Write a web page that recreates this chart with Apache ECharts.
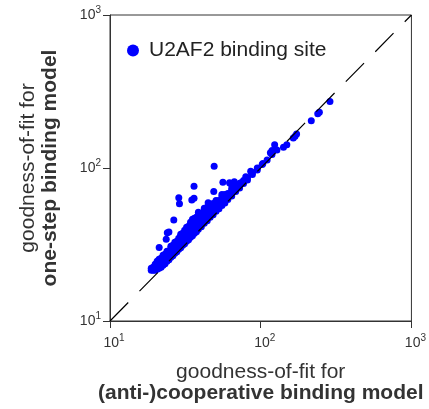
<!DOCTYPE html>
<html>
<head>
<meta charset="utf-8">
<script src="https://cdn.jsdelivr.net/npm/echarts@6/dist/echarts.min.js"></script>
<style>
html, body { margin: 0; padding: 0; background: #fff; }
#chart { width: 429px; height: 409px; }
</style>
</head>
<body>
<div id="chart"></div>
<script>
// goodness-of-fit: [(anti-)cooperative model, one-step model]
var bandSites = [
    [18.78, 21.49], [18.78, 22.15],
    [19.35, 21.49], [19.35, 22.48],
    [19.94, 21.50], [19.94, 22.48], [19.94, 23.52],
    [20.55, 21.82], [20.55, 22.83], [20.55, 23.87], [20.55, 24.60],
    [21.17, 22.14], [21.17, 23.16], [21.17, 24.23], [21.17, 25.34],
    [21.82, 22.48], [21.82, 23.52], [21.82, 24.60], [21.82, 25.73],
    [22.48, 23.16], [22.48, 23.87], [22.48, 24.97], [22.48, 26.12], [22.48, 26.91],
    [23.17, 23.70], [23.17, 24.97], [23.17, 26.12], [23.17, 27.33],
    [23.88, 24.61], [23.88, 26.13], [23.88, 27.33], [23.88, 28.59],
    [24.60, 25.16], [24.60, 26.12], [24.60, 27.32], [24.60, 28.58],
    [25.35, 26.12], [25.35, 27.32], [25.35, 28.58], [25.35, 29.90], [25.35, 30.81],
    [26.12, 26.72], [26.12, 27.73], [26.12, 29.01], [26.12, 30.35], [26.12, 31.27],
    [26.92, 27.74], [26.92, 29.01], [26.92, 30.35], [26.92, 31.75], [26.92, 32.72],
    [27.74, 28.37], [27.74, 29.45], [27.74, 30.81], [27.74, 32.23], [27.74, 33.21],
    [28.58, 29.45], [28.58, 30.80], [28.58, 32.22], [28.58, 33.71], [28.58, 34.73],
    [29.45, 30.12], [29.45, 31.27], [29.45, 32.71], [29.45, 34.22], [29.45, 35.79], [29.45, 36.88],
    [30.35, 31.27], [30.35, 32.71], [30.35, 34.22], [30.35, 35.79], [30.35, 37.44],
    [31.27, 31.98], [31.27, 33.20], [31.27, 34.73], [31.27, 36.33], [31.27, 38.00], [31.27, 39.16],
    [32.22, 33.20], [32.22, 34.73], [32.22, 36.33], [32.22, 38.00], [32.22, 39.75], [32.22, 40.96],
    [33.21, 33.97], [33.21, 35.26], [33.21, 36.89], [33.21, 38.58], [33.21, 40.36], [33.21, 41.59],
    [34.22, 35.26], [34.22, 36.88], [34.22, 38.58], [34.22, 40.36], [34.22, 42.21], [34.22, 44.16],
    [35.26, 36.06], [35.26, 37.44], [35.26, 39.16], [35.26, 40.96], [35.26, 42.85], [35.26, 44.82], [35.26, 46.19],
    [36.33, 37.43], [36.33, 39.16], [36.33, 40.96], [36.33, 42.85], [36.33, 44.82], [36.33, 46.88],
    [37.44, 38.29], [37.44, 39.75], [37.44, 41.59], [37.44, 43.50], [37.44, 45.50], [37.44, 47.59],
    [38.58, 39.75], [38.58, 41.58], [38.58, 43.50], [38.58, 45.50], [38.58, 47.59], [38.58, 49.78], [38.58, 51.30],
    [40.36, 41.28], [40.36, 42.85], [40.36, 44.83], [40.36, 46.89], [40.36, 49.05], [40.36, 50.54],
    [42.22, 43.50], [42.22, 45.50], [42.22, 47.60], [42.22, 49.79], [42.22, 52.08], [42.22, 54.48],
    [44.16, 45.17], [44.16, 46.89], [44.16, 49.05], [44.16, 51.30], [44.16, 53.67], [44.16, 55.30],
    [46.19, 47.59], [46.19, 49.78], [46.19, 52.08], [46.19, 54.48], [46.19, 56.13], [46.19, 57.84],
    [48.31, 49.41], [48.31, 51.30], [48.31, 53.66], [48.31, 56.13], [48.31, 58.71],
    [50.53, 52.07], [50.53, 54.46], [50.53, 56.97], [50.53, 59.60], [50.53, 61.41],
    [52.86, 54.07], [52.86, 56.13], [52.86, 58.71], [52.86, 61.41],
    [55.29, 56.97], [55.29, 59.59], [55.29, 62.34], [55.29, 65.21], [55.29, 67.19],
    [57.83, 59.15], [57.83, 61.40], [57.83, 64.23], [57.83, 67.19],
    [60.50, 62.34], [60.50, 65.21], [60.50, 68.21],
    [64.23, 65.69], [64.23, 68.20], [64.23, 71.34], [64.23, 73.51],
    [68.23, 70.30], [68.23, 73.54], [68.23, 76.93],
    [72.44, 74.09], [72.44, 76.92], [72.44, 79.26],
    [76.91, 79.25], [76.91, 82.89],
    [81.68, 83.54], [81.68, 86.73],
    [88.05, 90.73], [88.05, 93.49],
    [94.89, 97.05], [94.89, 100.0],
    [102.3, 105.4], [110.3, 112.8], [118.8, 122.4], [128.1, 131.0]
];

var scatteredSites = [
    [49.1, 102.7], [36.1, 76.0], [56.1, 80.8], [48.8, 70.3], [28.6, 64.0],
    [28.9, 58.5], [34.9, 61.7], [36.1, 63.5], [44.8, 59.3], [26.5, 45.7],
    [24.0, 37.8], [24.6, 38.2], [23.6, 34.2], [21.2, 30.2], [62.1, 80.1],
    [66.8, 81.3], [63.0, 79.3], [73.8, 80.1], [85.8, 95.3], [79.6, 87.6],
    [103.3, 107.0], [115.9, 125.6], [118.9, 130.0], [123.7, 142.0], [141.6, 136.7],
    [149.0, 142.0], [164.5, 157.0], [169.0, 161.0], [173.0, 167.0], [216.5, 204.0],
    [239.0, 226.0], [245.0, 231.0], [288.0, 272.0]
];

var diagonal = [[10, 10], [1000, 1000]];
var axisRange = [10, 1000];

var font = 'Liberation Sans';
var chart = echarts.init(document.getElementById('chart'));

function supLabel(v) {
    return '{b|10}{s|' + Math.round(Math.log10(v)) + '}';
}

chart.setOption({
    animation: false,
    grid: {
        left: 110, top: 15, width: 307, height: 307,
        show: true, borderColor: '#333', borderWidth: 1
    },
    legend: {
        data: ['U2AF2 binding site'],
        left: 122, top: 35,
        icon: 'circle',
        itemWidth: 22, itemHeight: 12,
        textStyle: { fontFamily: font, fontSize: 21, color: '#222' }
    },
    xAxis: {
        type: 'log', logBase: 10,
        min: axisRange[0], max: axisRange[1],
        splitLine: { show: false },
        minorTick: { show: false },
        axisLine: { lineStyle: { color: '#333', width: 1 } },
        axisTick: { inside: false, length: 7, lineStyle: { color: '#333' } },
        axisLabel: {
            margin: 14,
            formatter: supLabel,
            rich: {
                b: { fontFamily: font, fontSize: 14, color: '#333', lineHeight: 16, padding: [0, 0, 0, 8] },
                s: { fontFamily: font, fontSize: 10, color: '#333', lineHeight: 10, padding: [0, 0, 10, 0] }
            }
        },
        name: 'goodness-of-fit for\n{b|(anti-)cooperative binding model}',
        nameLocation: 'middle',
        nameGap: 41,
        nameTextStyle: {
            fontFamily: font, fontSize: 21, color: '#333', lineHeight: 21,
            rich: { b: { fontFamily: font, fontSize: 21, fontWeight: 'bold', color: '#333', lineHeight: 21 } }
        }
    },
    yAxis: {
        type: 'log', logBase: 10,
        min: axisRange[0], max: axisRange[1],
        splitLine: { show: false },
        minorTick: { show: false },
        axisLine: { lineStyle: { color: '#333', width: 1 } },
        axisTick: { inside: false, length: 7, lineStyle: { color: '#333' } },
        axisLabel: {
            margin: 9,
            formatter: supLabel,
            rich: {
                b: { fontFamily: font, fontSize: 14, color: '#333', lineHeight: 16 },
                s: { fontFamily: font, fontSize: 10, color: '#333', lineHeight: 10, padding: [0, 0, 10, 0] }
            }
        },
        name: 'goodness-of-fit for\n{b|one-step binding model}',
        nameLocation: 'middle',
        nameGap: 49,
        nameTextStyle: {
            fontFamily: font, fontSize: 21, color: '#333', lineHeight: 22,
            rich: { b: { fontFamily: font, fontSize: 21, fontWeight: 'bold', color: '#333', lineHeight: 22 } }
        }
    },
    series: [
        {
            name: 'U2AF2 binding site',
            type: 'scatter',
            symbol: 'circle',
            symbolSize: 7,
            itemStyle: { color: '#0000ff', opacity: 1 },
            data: bandSites.concat(scatteredSites),
            z: 2
        },
        {
            name: 'identity',
            type: 'line',
            data: diagonal,
            symbol: 'none',
            silent: true,
            lineStyle: { color: '#000', width: 1.2, type: [26, 16] },
            z: 3
        }
    ]
});
</script>
</body>
</html>
